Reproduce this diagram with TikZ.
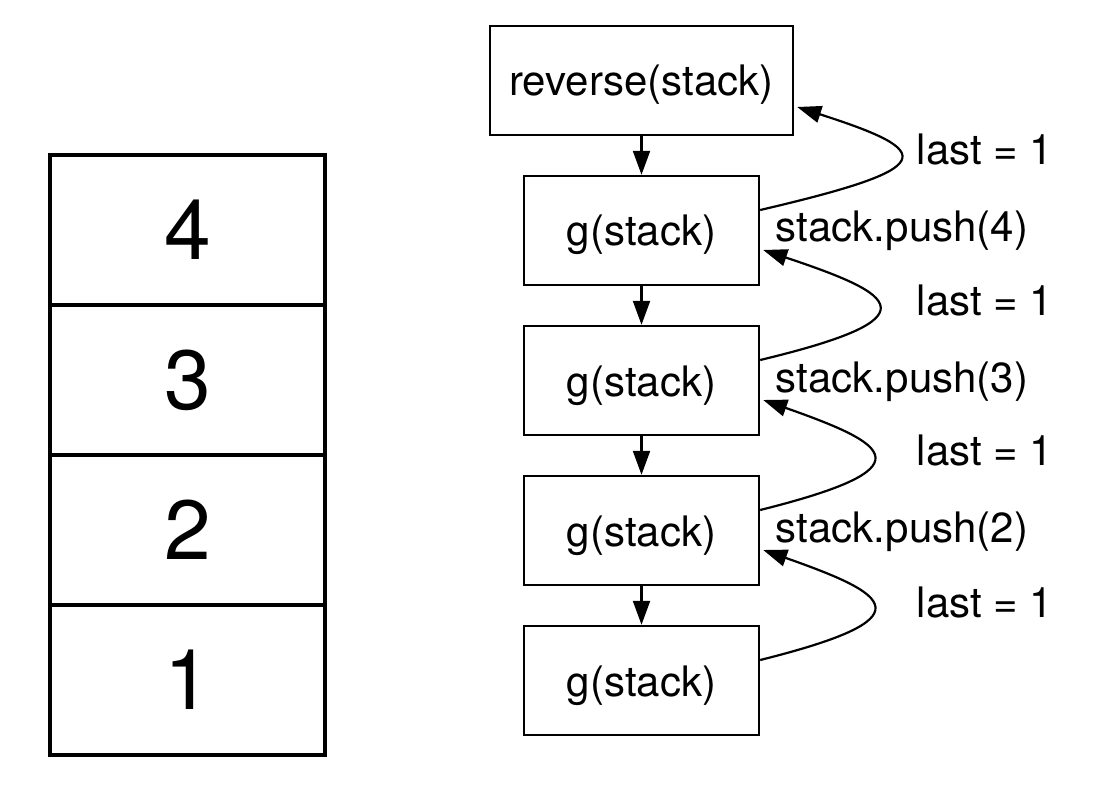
\documentclass[tikz,border=0pt]{standalone}
\usepackage{fontspec}
\setmainfont{TeX Gyre Heros}
\usetikzlibrary{arrows.meta,calc}
\tikzset{
  cell/.style={draw, line width=4pt, minimum width=275pt, minimum height=150pt, inner sep=0pt, font=\fontsize{84}{90}\selectfont},
  callbox/.style={draw, line width=2.4pt, minimum height=109pt, inner sep=0pt, text height=36pt, text depth=5pt, font=\fontsize{42}{48}\selectfont},
  lbl/.style={inner sep=0pt, anchor=base, font=\fontsize{42}{48}\selectfont},
  arr/.style={line width=2.2pt, -{Triangle[length=24pt,width=17pt]}}
}
\begin{document}
\begin{tikzpicture}[x=1pt,y=-1pt]
\useasboundingbox (0,0) rectangle (1099,799);
% stack
\node[cell] (c4) at (187.5,230) {4};
\node[cell] (c3) at (187.5,380) {3};
\node[cell] (c2) at (187.5,530) {2};
\node[cell] (c1) at (187.5,680) {1};
% call boxes
\node[callbox, minimum width=303pt] (rev) at (641.5,80.5) {reverse(stack)};
\node[callbox, minimum width=235pt] (g1) at (641.5,230.5) {g(stack)};
\node[callbox, minimum width=235pt] (g2) at (641.5,380.5) {g(stack)};
\node[callbox, minimum width=235pt] (g3) at (641.5,530.5) {g(stack)};
\node[callbox, minimum width=235pt] (g4) at (641.5,680.5) {g(stack)};
% down arrows
\draw[arr] (rev.south) -- (g1.north);
\draw[arr] (g1.south) -- (g2.north);
\draw[arr] (g2.south) -- (g3.north);
\draw[arr] (g3.south) -- (g4.north);
% return curves
\draw[arr] ($(g1.east)+(0,-20.5)$) .. controls +(180,-42) and +(140,45) .. ($(rev.east)+(3,26.5)$);
\draw[arr] ($(g2.east)+(0,-20.5)$) .. controls +(175,-42) and +(135,45) .. ($(g1.east)+(3,19.5)$);
\draw[arr] ($(g3.east)+(0,-20.5)$) .. controls +(168,-42) and +(128,45) .. ($(g2.east)+(3,19.5)$);
\draw[arr] ($(g4.east)+(0,-20.5)$) .. controls +(168,-42) and +(128,45) .. ($(g3.east)+(3,19.5)$);
% labels
\node[lbl] (l1) at (985,165) {last = 1};
\node[lbl] (l2) at (985,315) {last = 1};
\node[lbl] (l3) at (985,465) {last = 1};
\node[lbl] (l4) at (985,617) {last = 1};
\node[lbl] (p4) at (902,242) {stack.push(4)};
\node[lbl] (p3) at (902,392) {stack.push(3)};
\node[lbl] (p2) at (902,542) {stack.push(2)};
\end{tikzpicture}
\end{document}
